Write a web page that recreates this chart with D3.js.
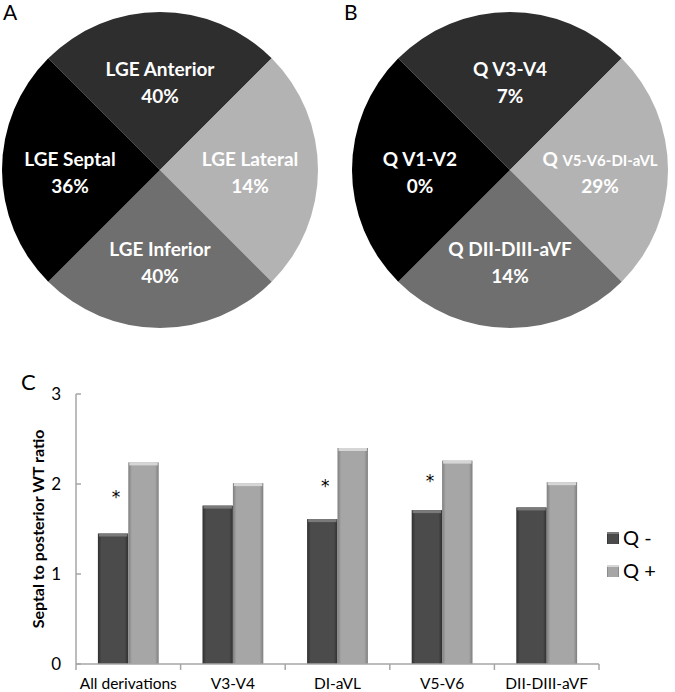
<html>
<head>
  <title></title>
</head>
<body>
<div id='graph-container'>
</div>
</body>
<script src="https://d3js.org/d3.v7.min.js"></script>
<script type="text/javascript">

// pie slices go clockwise from the top: anterior, lateral, inferior, septal
var pieALabels = ['LGE Anterior', 'LGE Lateral', 'LGE Inferior', 'LGE Septal']
var pieAPercents = ['40%', '14%', '40%', '36%']
var pieBLabels = ['Q V3-V4', 'Q V5-V6-DI-aVL', 'Q DII-DIII-aVF', 'Q V1-V2']
var pieBPercents = ['7%', '29%', '14%', '0%']
var sliceColors = ['#2e2e2e', '#b3b3b3', '#6f6f6f', '#000000']

var categories = ['All derivations', 'V3-V4', 'DI-aVL', 'V5-V6', 'DII-DIII-aVF']
var seriesNames = ['Q -', 'Q +']
var qMinus = [1.45, 1.76, 1.61, 1.71, 1.74]
var qPlus = [2.24, 2.01, 2.40, 2.26, 2.02]
var starLevels = [1.90, null, 2.02, 2.08, null]
var yTicks = [0, 1, 2, 3]

var W = 675, H = 692
var svg = d3.select('#graph-container').append('svg')
  .attr('width', W)
  .attr('height', H)
  .style('font-family', 'Lato, "Open Sans", sans-serif')

var defs = svg.append('defs')
function bevel(id, edge, mid){
  var g = defs.append('linearGradient').attr('id', id)
    .attr('x1', '0%').attr('x2', '100%').attr('y1', '0%').attr('y2', '0%')
  g.append('stop').attr('offset', '0%').attr('stop-color', edge)
  g.append('stop').attr('offset', '12%').attr('stop-color', mid)
  g.append('stop').attr('offset', '88%').attr('stop-color', mid)
  g.append('stop').attr('offset', '100%').attr('stop-color', edge)
}
bevel('gradMinus', '#2f2f2f', '#4b4b4b')
bevel('gradPlus', '#7e7e7e', '#a6a6a6')
var barFill = ['url(#gradMinus)', 'url(#gradPlus)']
var barTop = ['#7a7a7a', '#d6d6d6']

// ---- pies ----
var radius = 158
var pie = d3.pie().value(() => 1).sort(null)
  .startAngle(-Math.PI/4).endAngle(Math.PI*7/4)
var arc = d3.arc().innerRadius(0).outerRadius(radius)
var labelArc = d3.arc().innerRadius(radius*0.57).outerRadius(radius*0.57)

function drawPie(cx, cy, labels, percents){
  var g = svg.append('g').attr('transform', `translate(${cx},${cy})`)
  var slices = pie(labels)
  g.selectAll('path').data(slices).enter().append('path')
    .attr('d', arc)
    .attr('fill', (d, i) => sliceColors[i])
  slices.forEach((d, i) => {
    var c = labelArc.centroid(d)
    var t = g.append('text')
      .attr('x', c[0]).attr('y', c[1] - 4)
      .attr('text-anchor', 'middle')
      .attr('fill', 'white')
      .attr('font-weight', 'bold')
      .attr('font-size', 19)
    var parts = labels[i].split(' ')
    var head = parts.shift()
    var rest = parts.join(' ')
    // the long lead list in pie B is set in a smaller type
    var small = rest.split('-').length > 3
    t.append('tspan').text(head + ' ')
    t.append('tspan').attr('font-size', small ? 15 : 19).text(rest)
    g.append('text')
      .attr('x', c[0]).attr('y', c[1] + 23)
      .attr('text-anchor', 'middle')
      .attr('fill', 'white')
      .attr('font-weight', 'bold')
      .attr('font-size', 19)
      .text(percents[i])
  })
}
drawPie(160, 170, pieALabels, pieAPercents)
drawPie(510, 170, pieBLabels, pieBPercents)

svg.append('text').attr('x', 3).attr('y', 20).attr('font-size', 21).text('A')
svg.append('text').attr('x', 344).attr('y', 20).attr('font-size', 21).text('B')
svg.append('text').attr('x', 21).attr('y', 390).attr('font-size', 22).text('C')

// ---- bar chart ----
var plot = {left: 76, right: 599, top: 394, bottom: 664}
var xScale = d3.scaleBand().domain(categories).range([plot.left, plot.right]).paddingInner(0).paddingOuter(0)
var inner = d3.scaleBand().domain([0, 1]).range([0, xScale.bandwidth()]).paddingOuter(0.72).paddingInner(0)
var yScale = d3.scaleLinear().domain([0, 3]).range([plot.bottom, plot.top])

var axisColor = '#a6a6a6'
svg.append('line')
  .attr('x1', plot.left).attr('x2', plot.left)
  .attr('y1', yScale(3)).attr('y2', yScale(0))
  .attr('stroke', axisColor).attr('stroke-width', 1.5)
svg.selectAll('line.ytick').data(yTicks).enter().append('line')
  .attr('class', 'ytick')
  .attr('x1', plot.left).attr('x2', plot.left + 5)
  .attr('y1', d => yScale(d)).attr('y2', d => yScale(d))
  .attr('stroke', axisColor).attr('stroke-width', 1.5)
svg.selectAll('text.ylab').data(yTicks).enter().append('text')
  .attr('class', 'ylab')
  .attr('x', 61).attr('y', d => yScale(d) + 6)
  .attr('text-anchor', 'end')
  .attr('font-size', 17)
  .text(d => d)

svg.append('text')
  .attr('transform', `translate(44,${(plot.top + plot.bottom)/2}) rotate(-90)`)
  .attr('text-anchor', 'middle')
  .attr('font-weight', 'bold')
  .attr('font-size', 16)
  .text('Septal to posterior WT ratio')

var series = [qMinus, qPlus]
series.forEach((vals, s) => {
  var g = svg.append('g')
  categories.forEach((c, i) => {
    var x0 = xScale(c) + inner(s)
    var w = inner.bandwidth()
    g.append('rect')
      .attr('x', x0).attr('y', yScale(vals[i]))
      .attr('width', w).attr('height', yScale(0) - yScale(vals[i]))
      .attr('fill', barFill[s])
    g.append('rect')
      .attr('x', x0 + 1).attr('y', yScale(vals[i]))
      .attr('width', w - 2).attr('height', 3)
      .attr('fill', barTop[s])
  })
})

categories.forEach((c, i) => {
  if(starLevels[i] === null){return}
  svg.append('text')
    .attr('x', xScale(c) + inner(0) + inner.bandwidth()/2 + 3)
    .attr('y', yScale(starLevels[i]) + 10)
    .attr('text-anchor', 'middle')
    .attr('font-family', '"DejaVu Sans", sans-serif')
    .attr('font-size', 17)
    .attr('fill', '#000')
    .text('*')
})

svg.append('line')
  .attr('x1', plot.left).attr('x2', plot.right)
  .attr('y1', plot.bottom).attr('y2', plot.bottom)
  .attr('stroke', axisColor).attr('stroke-width', 1.5)
var bounds = categories.map(c => xScale(c)).concat([plot.right])
svg.selectAll('line.xtick').data(bounds).enter().append('line')
  .attr('class', 'xtick')
  .attr('x1', d => d).attr('x2', d => d)
  .attr('y1', plot.bottom).attr('y2', plot.bottom + 6)
  .attr('stroke', axisColor).attr('stroke-width', 1.5)
svg.selectAll('text.xlab').data(categories).enter().append('text')
  .attr('class', 'xlab')
  .attr('x', d => xScale(d) + xScale.bandwidth()/2)
  .attr('y', 689)
  .attr('text-anchor', 'middle')
  .attr('font-size', 15.5)
  .text(d => d)

// legend
seriesNames.forEach((name, s) => {
  var y = 532 + s*33
  svg.append('rect')
    .attr('x', 607).attr('y', y).attr('width', 12).attr('height', 12)
    .attr('fill', barFill[s])
  svg.append('rect')
    .attr('x', 607).attr('y', y).attr('width', 12).attr('height', 2)
    .attr('fill', barTop[s])
  svg.append('text')
    .attr('x', 623).attr('y', y + 13)
    .attr('font-size', 20)
    .text(name)
})

</script>
<style type="text/css">
  body{margin:0;}
</style>
</html>
